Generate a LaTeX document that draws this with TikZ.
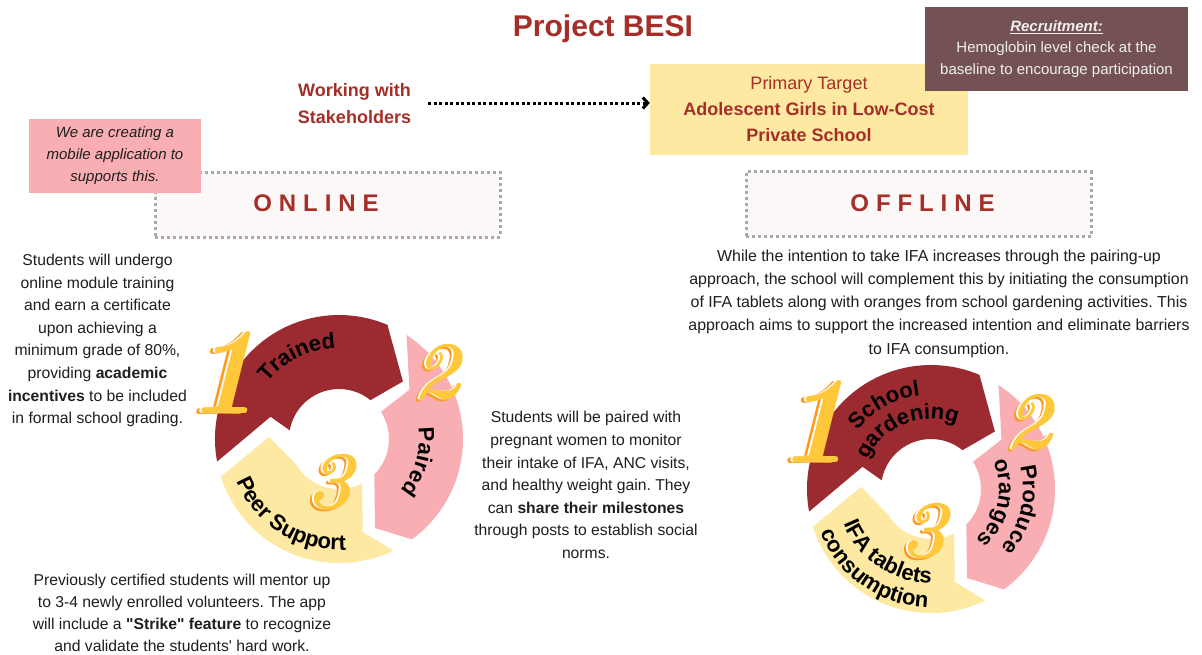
\documentclass[tikz,border=0pt]{standalone}
\usepackage{fontspec}
\setsansfont{Liberation Sans}[Ligatures=TeXOff]
\usetikzlibrary{arrows.meta,decorations.text,calc}

\definecolor{brick}{HTML}{A52F28}
\definecolor{segred}{HTML}{9C2B31}
\definecolor{segpink}{HTML}{F9AEB3}
\definecolor{segyellow}{HTML}{FEE9A2}
\definecolor{targetyellow}{HTML}{FEE9A2}
\definecolor{notepink}{HTML}{F8AEB3}
\definecolor{recruitbrown}{HTML}{745253}
\definecolor{recruittext}{HTML}{EFEFEF}
\definecolor{dotgrey}{HTML}{AAAAAA}
\definecolor{modefill}{HTML}{FCF8F8}
\definecolor{bodytext}{HTML}{1E1E1E}
\definecolor{numorange}{HTML}{FF9A1F}
\definecolor{numgold}{HTML}{FFC83A}

\newcommand\bodyfont{\fontsize{15.7pt}{22.6pt}\selectfont}
\newcommand\ringfont{\fontsize{22pt}{22pt}\selectfont\bfseries}
\newcommand\gap{\kern6.9pt}
% layered step number: orange extrusion, white rim, golden face
\newcommand\stepnum[2]{\fontsize{#1}{#1}\selectfont
  \rlap{\kern-4.5pt\raisebox{-1.5pt}{\color{numorange}#2}}%
  \rlap{\kern-1.8pt\raisebox{-0.3pt}{\color{white}#2}}%
  {\color{numgold}#2}}

\tikzset{
  body/.style={font=\bodyfont, text=bodytext, align=center, inner sep=0pt},
  modebox/.style={draw=dotgrey, line width=3pt, dash pattern=on 3pt off 3pt,
    fill=modefill, minimum width=345pt, minimum height=65pt, inner sep=0pt},
  modelabel/.style={text=brick, font=\fontsize{24pt}{24pt}\selectfont\bfseries, inner sep=0pt},
  ringtext/.style={decorate, decoration={text along path, text align=center, text={#1}}},
  numlabel/.style={inner sep=0pt, font=\rmfamily\bfseries\itshape},
  cyclering/.pic={
    % first step: dark red arc over the top
    \fill[segred] (190.5:124) arc[start angle=190.5, end angle=67, radius=124pt]
      -- (42:86) -- (51:50) arc[start angle=51, end angle=170, radius=50pt]
      -- (162:72) -- cycle;
    % second step: pink arc down the right side
    \fill[segpink] (57:124) arc[start angle=57, end angle=-54, radius=124pt]
      -- (-68:96) -- (-45:50) arc[start angle=-45, end angle=33, radius=50pt]
      -- (35:86) -- cycle;
    % third step: yellow arc along the bottom
    \fill[segyellow] (-64:124) arc[start angle=-64, end angle=-162.3, radius=124pt]
      -- (-181.7:70) -- (-149.7:50) arc[start angle=-149.7, end angle=-62.4, radius=50pt]
      -- (-75.7:96) -- cycle;
  }
}

\begin{document}
\sffamily\frenchspacing
\begin{tikzpicture}[x=1pt,y=1pt]
\fill[white] (0,0) rectangle (1202,-654);
\useasboundingbox (0,0) rectangle (1202,-654);

% heading
\node[text=brick, font=\fontsize{30pt}{30pt}\selectfont\bfseries, inner sep=0pt] (title) at (603,-29) {Project BESI};

% stakeholders and target group
\node[text=brick, font=\fontsize{18pt}{27pt}\selectfont\bfseries, align=center, inner sep=0pt] (wks) at (354.5,-103.5) {Working with\\Stakeholders};
\node[fill=targetyellow, minimum width=318pt, minimum height=91pt, inner sep=0pt,
      align=center, text=brick, font=\fontsize{18pt}{26pt}\selectfont] (target) at (809,-109.5)
      {Primary Target\\\textbf{Adolescent Girls in Low-Cost}\\\textbf{Private School}};
\node[fill=recruitbrown, minimum width=263pt, minimum height=84pt, inner sep=0pt,
      align=center, text=recruittext, font=\fontsize{15pt}{21.5pt}\selectfont] (recruit) at (1056.5,-49)
      {\textbf{\textit{\underline{Recruitment:}}}\\Hemoglobin level check at the\\baseline to encourage participation};
\coordinate (arrstart) at (428,-103);
\draw[line width=3pt, dash pattern=on 3pt off 2.5pt,
      -{Straight Barb[length=5pt,width=11pt,line width=3pt]}]
      (arrstart) -- (arrstart -| target.west);

% online / offline headers
\node[modebox] (online) at (327.5,-204.5) {};
\node[modelabel] (onlinetxt) at (316,-203) {O\gap N\gap L\gap I\gap N\gap E};
\node[modebox] (offline) at (918.5,-204) {};
\node[modelabel] (offlinetxt) at (922.5,-203) {O\gap F\gap F\gap L\gap I\gap N\gap E};
\node[fill=notepink, minimum width=172pt, minimum height=74pt, inner sep=0pt, align=center,
      text=bodytext, font=\fontsize{15pt}{22pt}\selectfont\itshape] (note) at (115,-156)
      {We are creating a\\mobile application to\\supports this.};

% explanatory paragraphs
\node[body] (trainedtxt) at (97.5,-340.5) {Students will undergo\\online module training\\and earn a certificate\\upon achieving a\\minimum grade of 80\%,\\providing \textbf{academic}\\\textbf{incentives} to be included\\in formal school grading.};
\node[body, font=\fontsize{15.9pt}{23.2pt}\selectfont] (offlinepar) at (939,-303.5) {While the intention to take IFA increases through the pairing-up\\approach, the school will complement this by initiating the consumption\\of IFA tablets along with oranges from school gardening activities. This\\approach aims to support the increased intention and eliminate barriers\\to IFA consumption.};
\node[body] (pairedtxt) at (586,-485) {Students will be paired with\\pregnant women to monitor\\their intake of IFA, ANC visits,\\and healthy weight gain. They\\can \textbf{share their milestones}\\through posts to establish social\\norms.};
\node[body, font=\fontsize{15.7pt}{22pt}\selectfont] (peertxt) at (182,-613) {Previously certified students will mentor up\\to 3-4 newly enrolled volunteers. The app\\will include a \textbf{"Strike" feature} to recognize\\and validate the students' hard work.};

% online cycle
\pic (onring) at (339,-439) {cyclering};
\begin{scope}[shift={(339,-439)}]
  \path[ringtext={|\ringfont|Trained}] (172:91) arc[start angle=172, end angle=62, radius=91pt];
  \path[ringtext={|\ringfont|Paired}] (29:80) arc[start angle=29, end angle=-61, radius=80pt];
  \path[ringtext={|\ringfont|Peer Support}] (188:111) arc[start angle=188, end angle=288, radius=111pt];
\end{scope}
\node[numlabel] (on1) at (223,-373) {\stepnum{124pt}{1}};
\node[numlabel] (on2) at (437,-373) {\stepnum{82pt}{2}};
\node[numlabel] (on3) at (330,-483) {\stepnum{82pt}{3}};

% offline cycle
\pic (offring) at (931,-489) {cyclering};
\begin{scope}[shift={(931,-489)}]
  \path[ringtext={|\ringfont|School}] (174:94) arc[start angle=174, end angle=64, radius=94pt];
  \path[ringtext={|\ringfont|gardening}] (180:70) arc[start angle=180, end angle=44, radius=70pt];
  \path[ringtext={|\ringfont|Produce}] (47:92) arc[start angle=47, end angle=-73, radius=92pt];
  \path[ringtext={|\ringfont|oranges}] (48:68) arc[start angle=48, end angle=-72, radius=68pt];
  \path[ringtext={|\ringfont|IFA tablets}] (176:94) arc[start angle=176, end angle=296, radius=94pt];
  \path[ringtext={|\ringfont|consumption}] (175:118.5) arc[start angle=175, end angle=295, radius=118.5pt];
\end{scope}
\node[numlabel] (off1) at (814,-422) {\stepnum{124pt}{1}};
\node[numlabel] (off2) at (1029,-423) {\stepnum{82pt}{2}};
\node[numlabel] (off3) at (924,-532) {\stepnum{82pt}{3}};
\end{tikzpicture}
\end{document}
